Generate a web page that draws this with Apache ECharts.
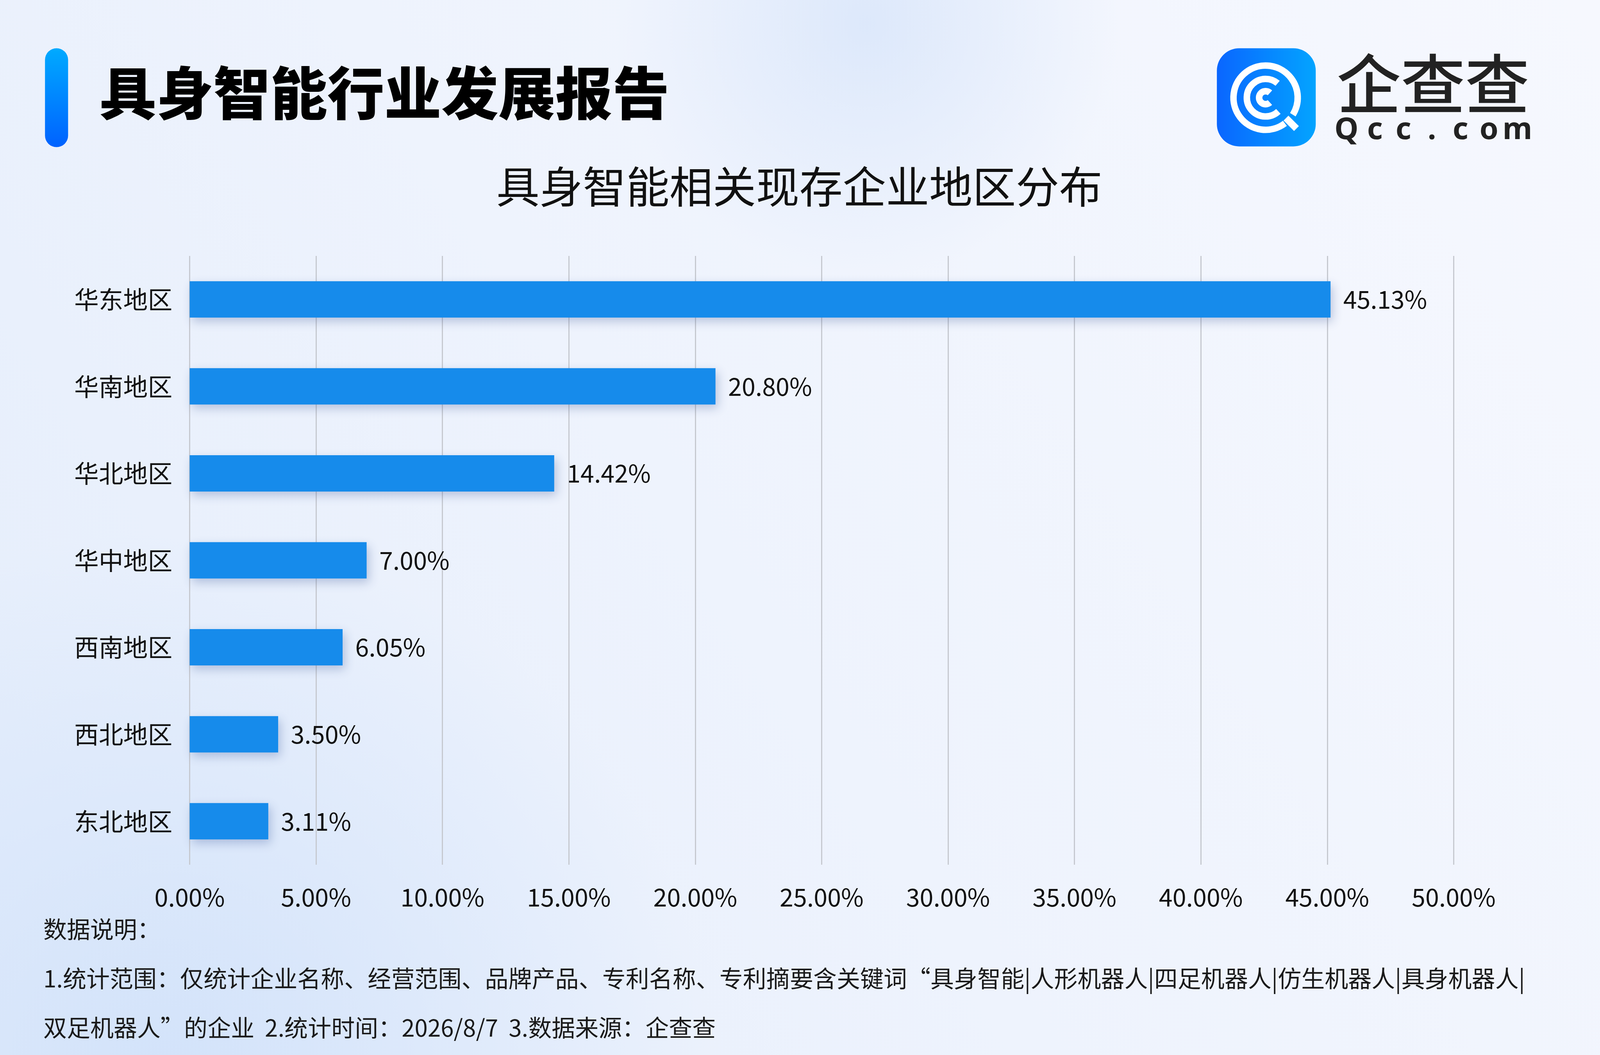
<!DOCTYPE html>
<html>
<head>
<meta charset="utf-8">
<title>具身智能相关现存企业地区分布</title>
<script src="https://cdn.jsdelivr.net/npm/echarts@6/dist/echarts.min.js"></script>
<style>
  html, body { margin: 0; padding: 0; width: 100%; height: 100%; overflow: hidden; }
  #main { width: 100vw; height: 100vh; }
</style>
</head>
<body>
<div id="main"></div>
<script>
var categories = ['华东地区', '华南地区', '华北地区', '华中地区', '西南地区', '西北地区', '东北地区'];
var shares = [45.13, 20.80, 14.42, 7.00, 6.05, 3.50, 3.11];
var xTicks = { min: 0, max: 50, step: 5 };

var mainTitle = '具身智能行业发展报告';
var chartTitle = '具身智能相关现存企业地区分布';
var notes = [
  '数据说明：',
  '1.统计范围：仅统计企业名称、经营范围、品牌产品、专利名称、专利摘要含关键词“具身智能|人形机器人|四足机器人|仿生机器人|具身机器人|',
  '双足机器人”的企业  2.统计时间：2026/8/7  3.数据来源：企查查'
];

var FONT = '"Noto Sans CJK SC", "Noto Sans", sans-serif';
var myChart = echarts.init(document.getElementById('main'));

// layout drawn on a 4800x2700 board, stretched onto the real window
var W = myChart.getWidth(), H = myChart.getHeight();
var sx = W / 4800, sy = H / 2700;
var f = Math.sqrt(sx * sy);          // text / icon scale
function X(v) { return v * sx; }
function Y(v) { return v * sy; }
function F(v) { return v * f; }
function font(w, size, fam) { return w + ' ' + F(size) + 'px ' + (fam || FONT); }
function pct(v) { return Number(v).toFixed(2) + '%'; }
function deg(d) { return d * Math.PI / 180; }

// logo (local coords, 0,0 = icon top-left on the board)
function ring(r, a0, a1) {
  return { type: 'arc', shape: { cx: 135, cy: 137, r: r, startAngle: deg(a0), endAngle: deg(a1), clockwise: true },
           style: { stroke: '#fff', lineWidth: 18, fill: null } };
}
var logoParts = [
  {
    type: 'rect',
    shape: { x: 0, y: 0, width: 274, height: 272, r: 62 },
    style: {
      fill: new echarts.graphic.LinearGradient(0, 0, 1, 0, [
        { offset: 0, color: '#0A66FF' },
        { offset: 1, color: '#03A4FF' }
      ])
    }
  },
  ring(89, 53, 392),
  ring(52, 47, 310),
  ring(18, 48, 312),
  { type: 'line', shape: { x1: 135 + 80 * Math.cos(deg(45)), y1: 137 + 80 * Math.sin(deg(45)),
                           x2: 135 + 121 * Math.cos(deg(45)), y2: 137 + 121 * Math.sin(deg(45)) },
    style: { stroke: '#fff', lineWidth: 19 } },
  { type: 'text', x: 599, y: 99,
    style: { text: '企查查', fill: '#222', font: '500 178px ' + FONT, align: 'center', verticalAlign: 'middle' } }
];
'Qcc.com'.split('').forEach(function (ch, i) {
  logoParts.push({
    type: 'text', x: 359 + i * 79, y: 228,
    style: { text: ch, fill: '#222', font: '700 84px "Noto Sans", sans-serif', align: 'center', verticalAlign: 'middle' }
  });
});
var logo = {
  type: 'group',
  x: X(4600) - 877 * f,
  y: Y(250) - 137 * f,
  scaleX: f,
  scaleY: f,
  children: logoParts
};

var decorations = [
  // soft background blobs
  { type: 'circle', silent: true, shape: { cx: X(2600), cy: Y(60), r: F(700) },
    style: { fill: new echarts.graphic.RadialGradient(0.5, 0.5, 0.5, [
      { offset: 0, color: 'rgba(214,228,250,0.75)' },
      { offset: 1, color: 'rgba(214,228,250,0)' }
    ]) } },
  { type: 'circle', silent: true, shape: { cx: X(500), cy: Y(2750), r: F(1500) },
    style: { fill: new echarts.graphic.RadialGradient(0.5, 0.5, 0.5, [
      { offset: 0, color: 'rgba(206,224,250,0.8)' },
      { offset: 1, color: 'rgba(206,224,250,0)' }
    ]) } },
  // accent bar
  { type: 'rect', shape: { x: X(135), y: Y(250) - F(137), width: F(64), height: F(274), r: F(32) },
    style: { fill: new echarts.graphic.LinearGradient(0, 0, 0, 1, [
      { offset: 0, color: '#00AAFF' },
      { offset: 1, color: '#0062FF' }
    ]) } },
  { type: 'text', x: X(298), y: Y(238),
    style: { text: mainTitle, fill: '#000', font: font(900, 158), verticalAlign: 'middle' } },
  { type: 'text', x: X(2398), y: Y(478),
    style: { text: chartTitle, fill: '#111', font: font(400, 120), align: 'center', verticalAlign: 'middle' } }
];

var noteY = [2378, 2504, 2630];
notes.forEach(function (t, i) {
  decorations.push({
    type: 'text', x: X(130), y: Y(noteY[i]),
    style: { text: t, fill: '#1a1a1a', font: font(400, 65), verticalAlign: 'middle' }
  });
});

var option = {
  backgroundColor: new echarts.graphic.LinearGradient(1, 0, 0, 1, [
    { offset: 0, color: '#F6F8FE' },
    { offset: 0.55, color: '#EEF3FD' },
    { offset: 1, color: '#E4EDFB' }
  ]),
  textStyle: { fontFamily: FONT },
  graphic: decorations.concat([logo]),
  grid: { left: X(569), right: W - X(4361), top: Y(655), bottom: H - Y(2213), containLabel: false },
  xAxis: {
    type: 'value',
    min: xTicks.min,
    max: xTicks.max,
    interval: xTicks.step,
    axisLine: { show: false },
    axisTick: { show: false },
    axisLabel: { margin: Y(52), fontSize: F(68), color: '#111', formatter: pct },
    splitLine: { show: true, lineStyle: { color: '#C6C9D0', width: 3 } }
  },
  yAxis: {
    type: 'category',
    inverse: true,
    data: categories,
    axisLine: { show: false },
    axisTick: { show: false },
    axisLabel: { margin: X(52), fontSize: F(68), color: '#111' }
  },
  series: [{
    name: '占比',
    type: 'bar',
    data: shares,
    barWidth: Y(93),
    itemStyle: {
      color: '#168BEB',
      shadowColor: 'rgba(40,70,140,0.28)',
      shadowBlur: 24,
      shadowOffsetX: 6,
      shadowOffsetY: 10
    },
    label: {
      show: true,
      position: 'right',
      distance: X(38),
      fontSize: F(68),
      color: '#111',
      formatter: function (p) { return pct(p.value); }
    }
  }]
};

myChart.setOption(option);
</script>
</body>
</html>
